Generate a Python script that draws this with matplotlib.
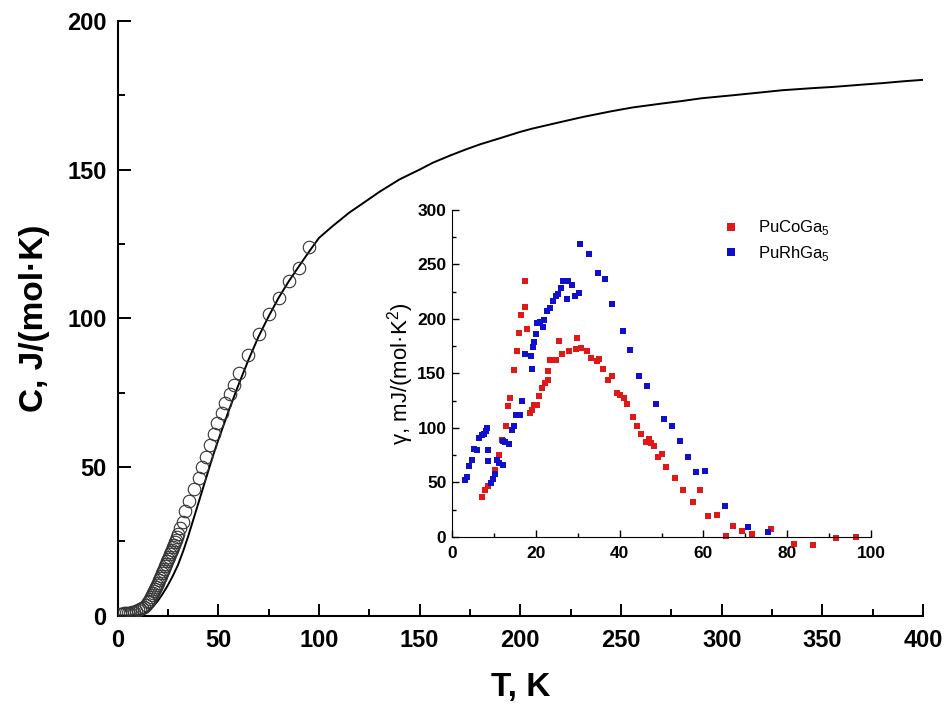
import numpy as np
import matplotlib
matplotlib.use("Agg")
import matplotlib.pyplot as plt
from matplotlib.ticker import MultipleLocator

plt.rcParams["font.family"] = ["Liberation Sans", "DejaVu Sans"]
plt.rcParams["mathtext.fontset"] = "custom"
plt.rcParams["mathtext.rm"] = "Liberation Sans"

# ---- main panel: measured C(T) (open circles) + model curve (solid line) ----
line_T = [0, 5, 10, 12.6, 15, 17.5, 20, 22.5, 25, 27.5, 30, 32.5, 35, 37.5, 40,
          42.5, 45, 47.5, 50, 55, 60, 65, 70, 75, 80, 85, 90, 95, 100, 106.8,
          115, 123.4, 130, 140, 150, 156.5, 165, 173, 180, 189.6, 200, 206,
          220, 231, 245, 255.7, 270, 280.5, 290, 305.4, 320, 330, 345, 355,
          370, 380, 390, 400]
line_C = [0, 0, 0.05, 0.4, 1.4, 2.9, 4.9, 7.4, 10.2, 13.4, 17.0, 21.5, 26.5, 32.0, 37.5,
          43.0, 48.5, 54.0, 59.0, 68.5, 77.5, 86.0, 93.8, 100.6, 106.9, 112.4, 117.4, 122.3, 127.0, 131.0,
          135.5, 139.4, 142.5, 146.7, 150.0, 152.3, 154.7, 156.8, 158.5, 160.5, 162.7, 163.8,
          166.0, 167.7, 169.6, 170.9, 172.2, 173.1, 174.0, 175.0, 176.0, 176.7, 177.4, 177.8,
          178.6, 179.1, 179.7, 180.2]

circ_T = [1.0, 2, 3, 4, 5, 6, 7, 8, 9, 10, 11, 12, 13, 14, 15, 15.5, 16, 16.5, 17,
          17.5, 18, 18.5, 19, 19.5, 20, 20.5, 21, 21.5, 22, 22.5, 23, 23.5, 24,
          24.5, 25, 25.5, 26, 26.5, 27, 27.5, 28, 28.5, 29, 29.5, 30.2, 31.2,
          32.3, 33.6, 35.3, 37.9, 40.2, 41.8, 44.0, 46.1, 47.8, 49.4, 51.8, 53.6,
          55.6, 57.7, 60.2, 64.7, 70.0, 75.0, 80.0, 85.0, 90.3, 95.3]
circ_C = [0.6, 0.6, 0.7, 0.8, 0.9, 1.0, 1.1, 1.3, 1.5, 1.8, 2.1, 2.5, 3.0, 3.6, 4.4, 4.9, 5.5, 6.1, 6.8,
          7.5, 8.2, 8.9, 9.7, 10.4, 11.1, 11.8, 12.6, 13.4, 14.2, 15.0, 15.8, 16.6, 17.4,
          18.2, 19.0, 19.8, 20.6, 21.4, 22.2, 23.0, 23.8, 24.6, 25.4, 26.3, 27.5, 29.5,
          31.6, 35.0, 38.5, 42.4, 46.1, 49.8, 53.4, 57.3, 60.9, 64.6, 68.2, 71.4,
          74.4, 77.6, 81.5, 87.7, 94.8, 101.4, 106.8, 112.4, 117.0, 123.8]

# ---- inset: gamma(T) for the two compounds ----
co_T = [7.1, 7.9, 8.7, 10.3, 11.1, 11.9, 12.8, 13.3, 13.8, 14.8, 15.6, 16.0, 16.5,
        17.4, 17.4, 18.0, 18.5, 19.0, 19.6, 20.2, 20.8, 21.5, 22.2, 22.8, 22.9,
        23.5, 24.8, 25.5, 26.3, 27.9, 29.5, 29.9, 30.9, 32.1, 33.1, 34.7, 35.0,
        36.1, 37.2, 38.1, 39.3, 40.2, 41.0, 41.8, 43.1, 44.1, 45.0, 46.3, 46.9,
        47.4, 48.2, 49.1, 50.0, 51.1, 53.3, 55.1, 57.4, 59.2, 61.2, 63.2, 65.4,
        67.1, 69.1, 71.5, 76.1, 81.5, 86.1, 91.6, 96.4]
co_g = [36.3, 43, 46.7, 61.4, 75.3, 89.1, 101.4, 119.8, 127.5, 153, 170.5, 187.4, 203.4,
        211.4, 234.4, 190.5, 113.7, 116.7, 121.4, 121.4, 129, 136.7, 141.3, 143.5, 152,
        162.2, 161.9, 179.7, 167.4, 170.5, 172, 182.8, 173.6, 170.5, 164.4, 161.3, 163.5,
        153.6, 143.5, 147.5, 132, 130, 127.5, 122.3, 110, 101.4, 94.3, 86.9, 90,
        86, 83.6, 72.8, 75.9, 63.6, 53.8, 43, 31.6, 43, 19.4, 20, 0.6,
        9.8, 5.2, 2.5, 6.8, -6.8, -7.7, -1.5, 0]

rh_T = [3.1, 3.5, 4.0, 4.7, 5.3, 5.9, 6.4, 7.1, 7.7, 8.1, 8.3, 8.5, 8.7, 9.2, 9.7,
        10.3, 10.7, 11.3, 12.1, 12.1, 12.6, 13.7, 14.2, 14.9, 15.3, 16.2, 16.6,
        17.4, 18.8, 19.0, 19.3, 19.6, 20.0, 20.4, 21.0, 21.8, 22.0, 22.6, 23.4,
        24.2, 24.8, 25.4, 26.0, 26.6, 27.5, 27.8, 28.7, 29.4, 30.2, 30.5, 32.7,
        34.8, 36.5, 38.3, 40.7, 42.5, 44.7, 46.6, 48.7, 50.6, 52.4, 54.3, 56.4,
        58.2, 60.4, 65.2, 70.7, 75.5]
rh_g = [52.2, 55.3, 64.5, 70.7, 80.5, 79.9, 90.6, 93.7, 94.3, 96.8, 99.8, 79.9, 69.1, 49.2, 53.1,
        57.5, 70.7, 67.6, 66, 87.6, 86.6, 85.1, 97.7, 101.4, 112.1, 112.1, 124.4,
        167.4, 165.9, 154.2, 174.5, 178.8, 185.9, 196.6, 197.2, 193, 199, 207.4, 210.4,
        216.6, 220.6, 222.7, 228, 235, 218.7, 234.4, 231, 221.2, 223.7, 268.8, 259.6,
        241.8, 236.6, 213.5, 188.9, 171.4, 147.5, 138.2, 122.3, 108.1, 102, 87.6, 73.1,
        59.3, 60.8, 28.3, 9.2, 4.6]

fig = plt.figure(figsize=(9.48, 7.11), dpi=100)
ax = fig.add_axes([0.124, 0.1343, 0.8497, 0.8362])

ax.plot(circ_T, circ_C, "o", ms=9, mfc="none", mec="#333333", mew=0.8, zorder=3)
ax.plot(line_T, line_C, "-", color="black", lw=1.4, zorder=2)

ax.set_xlim(0, 400)
ax.set_ylim(0, 200)
ax.xaxis.set_major_locator(MultipleLocator(50))
ax.xaxis.set_minor_locator(MultipleLocator(25))
ax.yaxis.set_major_locator(MultipleLocator(50))
ax.yaxis.set_minor_locator(MultipleLocator(25))
ax.tick_params(which="both", direction="in", width=1.4)
ax.tick_params(which="major", length=9, labelsize=17, pad=8)
ax.tick_params(axis="x", which="major", pad=10)
ax.tick_params(which="minor", length=5)
for lbl in ax.get_xticklabels() + ax.get_yticklabels():
    lbl.set_fontweight("bold")
for side in ["top", "right"]:
    ax.spines[side].set_visible(False)
for side in ["left", "bottom"]:
    ax.spines[side].set_linewidth(1.5)
ax.set_xlabel("T, K", fontsize=24, fontweight="bold", labelpad=14)
ax.set_ylabel("C, J/(mol·K)", fontsize=24, fontweight="bold", labelpad=12)

# inset
ins = fig.add_axes([0.4768, 0.2451, 0.442, 0.4595])
ins.plot(co_T, co_g, "s", ms=5, color="#e01818", mew=0, clip_on=False, label="PuCoGa$_5$")
ins.plot(rh_T, rh_g, "s", ms=5, color="#1010cc", mew=0, clip_on=False, label="PuRhGa$_5$")
ins.set_xlim(0, 100)
ins.set_ylim(0, 300)
ins.xaxis.set_major_locator(MultipleLocator(20))
ins.xaxis.set_minor_locator(MultipleLocator(10))
ins.yaxis.set_major_locator(MultipleLocator(50))
ins.yaxis.set_minor_locator(MultipleLocator(25))
ins.tick_params(which="both", direction="in", width=1.0)
ins.tick_params(which="major", length=5, labelsize=12.5, pad=4)
ins.tick_params(axis="x", which="major", pad=7)
ins.tick_params(which="minor", length=3)
for lbl in ins.get_xticklabels() + ins.get_yticklabels():
    lbl.set_fontweight("bold")
for side in ["top", "right"]:
    ins.spines[side].set_visible(False)
ins.patch.set_alpha(0)
ins.set_ylabel("γ, mJ/(mol·K$^2$)", fontsize=16, labelpad=1)
ins.legend(loc="upper left", bbox_to_anchor=(0.61, 1.02), frameon=False,
           fontsize=12, handlelength=1.0, handletextpad=1.1, labelspacing=0.4,
           markerscale=1.2)

fig.savefig("out.png", dpi=100)
